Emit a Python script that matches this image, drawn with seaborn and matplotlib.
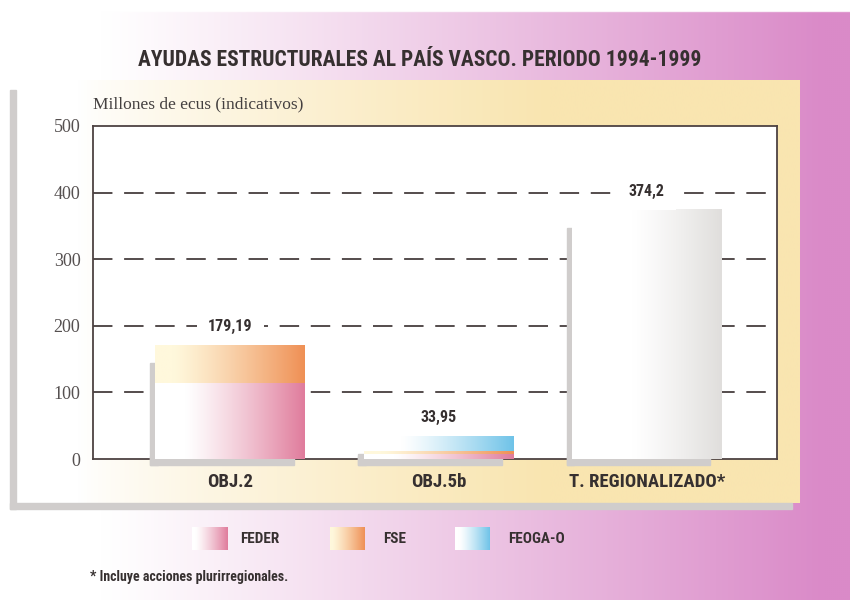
import numpy as np
import pandas as pd
import matplotlib
matplotlib.use('Agg')
import matplotlib.pyplot as plt
import seaborn as sns
from matplotlib.patches import Rectangle
from matplotlib.colors import to_rgb

# data
categories = ['OBJ.2', 'OBJ.5b', 'T. REGIONALIZADO*']
feder = [113, 6.5, 0]
fse = [58, 4.5, 0]
feoga_o = [0, 23, 0]
regionalizado = [0, 0, 374.2]
total_labels = ['179,19', '33,95', '374,2']
series_names = ['FEDER', 'FSE', 'FEOGA-O']
y_ticks = [0, 100, 200, 300, 400, 500]

sns.set_theme(style='white')
cond = ['Roboto Condensed', 'Open Sans Condensed', 'DejaVu Sans Condensed',
        'Roboto', 'DejaVu Sans']
serif = ['Liberation Serif', 'DejaVu Serif']
plt.rcParams['font.family'] = cond
plt.rcParams['font.stretch'] = 'condensed'
dark = '#363030'


def grad(c0, c1, start=0.15, power=1.2, n=256):
    t = np.linspace(0, 1, n)
    f = np.clip((t - start) / (1 - start), 0, 1) ** power
    a = np.array(to_rgb(c0))
    b = np.array(to_rgb(c1))
    return (a[None, :] * (1 - f[:, None]) + b[None, :] * f[:, None])[None, :, :]


fills = {
    'FEDER': ('#ffffff', '#e07c9c', 0.2),
    'FSE': ('#fff8dc', '#ef9055', 0.12),
    'FEOGA-O': ('#ffffff', '#6fc3e8', 0.25),
    'total': ('#ffffff', '#e0dedc', 0.4),
}

fig = plt.figure(figsize=(8.5, 6), dpi=100)

# page background: white on the left, pink on the right
bg = fig.add_axes([0, 0, 1, 1], zorder=-10)
X, Y = np.meshgrid(np.linspace(0, 1, 425), np.linspace(0, 1, 300))
t = np.clip((X - 0.12) / 0.85, 0, 1) ** 1.1
pink = np.array([218, 138, 200]) / 255
img = np.ones((300, 425, 3)) * (1 - t[..., None]) + pink * t[..., None]
img[:6] = 1.0
bg.imshow(img, extent=[0, 1, 0, 1], aspect='auto', origin='upper')
bg.set_xlim(0, 1)
bg.set_ylim(0, 1)
bg.axis('off')

# cream panel behind the chart
panel = fig.add_axes([16 / 850, 1 - 503 / 600, 784 / 850, 423 / 600], zorder=-5)
Xp = np.linspace(0, 1, 400)
tp = np.clip((Xp - 0.08) / 0.6, 0, 1) ** 0.8
cream = np.array([249, 229, 176]) / 255
pimg = (np.ones((400, 3)) * (1 - tp[:, None]) + cream * tp[:, None])[None, :, :]
panel.imshow(pimg, extent=[0, 1, 0, 1], aspect='auto')
panel.axis('off')

shadow = '#d0cdcc'
fig.patches.append(Rectangle((10 / 850, 1 - 509 / 600), 6 / 850, 419 / 600,
                             transform=fig.transFigure, color=shadow, zorder=-4))
fig.patches.append(Rectangle((10 / 850, 1 - 509 / 600), 782 / 850, 6 / 600,
                             transform=fig.transFigure, color=shadow, zorder=-4))

# main chart
ax = fig.add_axes([93 / 850, 1 - 459 / 600, 684 / 850, 333 / 600], zorder=1)
ax.set_facecolor('white')

cum1 = np.array(feder)
cum2 = cum1 + np.array(fse)
cum3 = cum2 + np.array(feoga_o)
seg = {'FEOGA-O': feoga_o, 'FSE': fse, 'FEDER': feder, 'total': regionalizado}
layers = [('FEOGA-O', cum3), ('FSE', cum2), ('FEDER', cum1), ('total', np.array(regionalizado))]

bar_w = 0.72
for k, (name, vals) in enumerate(layers):
    df = pd.DataFrame({'cat': categories, 'val': vals})
    n_before = len(ax.patches)
    sns.barplot(data=df, x='cat', y='val', order=categories, color='white',
                width=bar_w, errorbar=None, ax=ax)
    for i, p in enumerate(ax.patches[n_before:]):
        p.set_facecolor('none')
        p.set_edgecolor('none')
        if seg[name][i] <= 0:
            continue
        c0, c1, st = fills[name]
        x0, w, h = p.get_x(), p.get_width(), p.get_height()
        ax.imshow(grad(c0, c1, st), extent=[x0, x0 + w, 0, h], aspect='auto',
                  interpolation='bilinear', zorder=3 + k * 0.1)

totals = cum3 + np.array(regionalizado)

# grey L-shaped shadows at the left and bottom of each bar
for i, tot in enumerate(totals):
    left = i - bar_w / 2
    ax.add_patch(Rectangle((left - 0.025, -9), 0.035, max(tot - 27, 0) + 9,
                           color=shadow, zorder=2.8, clip_on=False))
    ax.add_patch(Rectangle((left - 0.025, -9), bar_w - 0.03, 13,
                           color=shadow, zorder=2.8, clip_on=False))

for v in y_ticks[1:-1]:
    ax.axhline(v, color='#544c4c', lw=1.4, dashes=(10, 6), zorder=1)

for i, (tot, lab) in enumerate(zip(totals, total_labels)):
    ax.text(i, tot + 28, lab, ha='center', va='center', fontsize=11.5,
            fontweight='bold', family=cond, color=dark, zorder=6,
            bbox=dict(boxstyle='square,pad=0.7', fc='white', ec='none'))

ax.set_xlim(-0.66, 2.625)
ax.set_ylim(0, 500)
ax.set_yticks(y_ticks)
ax.set_yticklabels([str(v) for v in y_ticks], family=serif, fontsize=13,
                   color='#555050', stretch='normal')
ax.set_xticks(range(len(categories)))
ax.set_xticklabels(categories, fontsize=13.5, fontweight='bold', family=cond, color=dark)
ax.tick_params(axis='y', length=0, pad=9)
ax.tick_params(axis='x', length=0, pad=10)
ax.set_xlabel('')
ax.set_ylabel('')
for s in ax.spines.values():
    s.set_visible(True)
    s.set_color('#4d4242')
    s.set_linewidth(1.3)

fig.text(93 / 850, 1 - 104 / 600, 'Millones de ecus (indicativos)', family=serif,
         fontsize=12.5, color='#444040', va='center', stretch='normal')
fig.text(420 / 850, 1 - 60 / 600, 'AYUDAS ESTRUCTURALES AL PAÍS VASCO. PERIODO 1994-1999',
         ha='center', va='center', fontsize=15.5, fontweight='bold', family=cond, color=dark)

# legend with gradient swatches
legend_pos = [(192, 240), (330, 383), (455, 508)]
for name, (xs, xt) in zip(series_names, legend_pos):
    sax = fig.add_axes([xs / 850, 1 - 550 / 600, 35 / 850, 23 / 600], zorder=2)
    c0, c1, st = fills[name]
    sax.imshow(grad(c0, c1, st * 0.5), extent=[0, 1, 0, 1], aspect='auto')
    sax.axis('off')
    fig.text(xt / 850, 1 - 539 / 600, name, fontsize=11, fontweight='bold',
             family=cond, color=dark, va='center')

fig.text(90 / 850, 1 - 577 / 600, '* Incluye acciones plurirregionales.', fontsize=10,
         fontweight='bold', family=cond, color=dark, va='center')

fig.savefig('out.png', dpi=100)
